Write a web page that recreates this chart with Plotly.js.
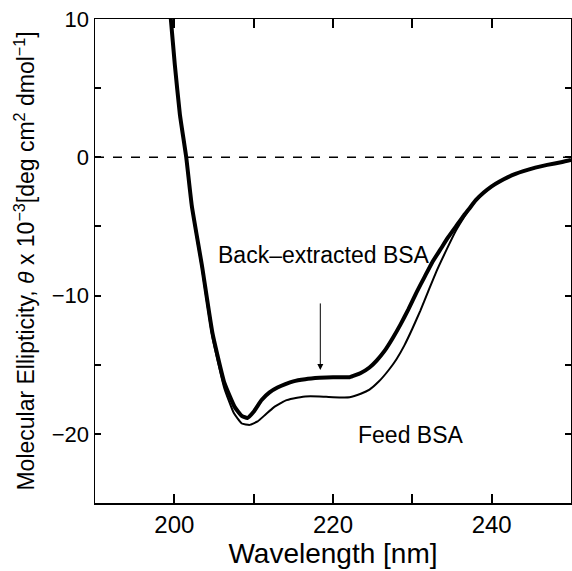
<!DOCTYPE html>
<html>
<head>
<meta charset="utf-8">
<script src="https://cdn.plot.ly/plotly-3.0.1.min.js"></script>
<style>html,body{margin:0;padding:0;background:#fff;}#chart{width:572px;height:571px;}</style>
</head>
<body>
<div id="chart"></div>
<script>
// Back-extracted BSA (thick, overlapping runs)
const backWl = [199.3, 199.56, 200.06, 200.7, 201.5, 202.2, 203.5, 204.8, 206.3, 207.6, 208.5, 209.2, 210, 211, 212, 213, 214, 215, 216.5, 218.3, 220, 222.1, 223.5, 224.6, 225.5, 226.5, 227.5, 228.5, 229.5, 230.5, 231.5, 232.5, 233.5, 234.5, 235.5, 236.5, 237.2, 238, 239, 240, 241, 242, 243, 244, 245.5, 247, 248.9, 250];
const backVal = [11.5, 10, 6.7, 3.1, 0, -3.5, -7.9, -12.7, -16.3, -18.05, -18.7, -18.85, -18.4, -17.55, -17.0, -16.65, -16.4, -16.2, -16.05, -15.95, -15.9, -15.9, -15.6, -15.2, -14.7, -14.0, -13.1, -12.1, -11.0, -9.8, -8.7, -7.6, -6.7, -5.8, -5.0, -4.2, -3.7, -3.1, -2.55, -2.1, -1.75, -1.45, -1.2, -1.0, -0.75, -0.55, -0.34, -0.2];
// Feed BSA (thin)
const feedWl = [199.3, 199.56, 200.06, 200.7, 201.5, 202.2, 203.5, 204.8, 206.3, 207.5, 208.5, 209.5, 210.5, 211.5, 212.5, 214, 215, 216.5, 218.3, 220, 222.1, 223.5, 224.6, 225.8, 227, 228, 229, 230, 231, 232, 233, 234.3, 235.5, 236.5, 237.2, 238, 239, 240, 241, 242, 243, 244, 245.5, 247, 248.9, 250];
const feedVal = [11.5, 10, 6.7, 3.1, 0, -3.6, -8.1, -13.0, -16.7, -18.5, -19.25, -19.35, -19.1, -18.6, -18.1, -17.6, -17.45, -17.3, -17.3, -17.35, -17.35, -17.1, -16.8, -16.2, -15.4, -14.6, -13.6, -12.4, -11.1, -9.7, -8.3, -6.7, -5.3, -4.35, -3.75, -3.15, -2.6, -2.1, -1.75, -1.45, -1.2, -1.0, -0.75, -0.55, -0.34, -0.2];

const xTickVals = [190, 200, 210, 220, 230, 240, 250];
const xTickText = ['', '200', '', '220', '', '240', ''];
const yTickVals = [-25, -20, -15, -10, -5, 0, 5, 10];
const yTickText = ['', '\u221220', '', '\u221210', '', '0', '', '10'];

const labelBack = {text: 'Back\u2013extracted BSA', x: 218.9, y: -7.06};
const labelFeed = {text: 'Feed BSA', x: 229.75, y: -20.08};
const arrowPos = {x: 218.4, yHead: -15.38, yTail: -10.46};

const FONT = 'Liberation Sans, Arial, Helvetica, sans-serif';

const traces = [
  {x: feedWl, y: feedVal, type: 'scatter', mode: 'lines', line: {color: '#000', width: 2, shape: 'spline', smoothing: 0.4}, showlegend: false, hoverinfo: 'skip'},
  {x: backWl, y: backVal, type: 'scatter', mode: 'lines', line: {color: '#000', width: 4, shape: 'spline', smoothing: 0.4}, showlegend: false, hoverinfo: 'skip'}
];

const layout = {
  width: 572, height: 571,
  margin: {l: 95, r: 1, t: 19, b: 68, pad: 0},
  paper_bgcolor: '#fff', plot_bgcolor: '#fff',
  font: {family: FONT, color: '#000'},
  showlegend: false,
  xaxis: {
    range: [190, 250], showgrid: false, zeroline: false,
    showline: true, linecolor: '#000', linewidth: 1.5, mirror: 'ticks',
    ticks: 'inside', ticklen: 9, tickwidth: 2, tickcolor: '#000',
    tickmode: 'array', tickvals: xTickVals, ticktext: xTickText,
    tickfont: {size: 24, family: FONT, color: '#000'},
    title: {text: 'Wavelength [nm]', font: {size: 28, family: FONT, color: '#000'}, standoff: 4}
  },
  yaxis: {
    range: [-25, 10], showgrid: false, zeroline: false,
    showline: true, linecolor: '#000', linewidth: 1.5, mirror: 'ticks',
    ticks: 'inside', ticklen: 6, tickwidth: 2, tickcolor: '#000',
    tickmode: 'array', tickvals: yTickVals, ticktext: yTickText,
    tickfont: {size: 22, family: FONT, color: '#000'},
    title: {text: 'Molecular Ellipticity, <i>\u03b8</i> x 10<sup>\u22123</sup>[deg cm<sup>2</sup> dmol<sup>\u22121</sup>]', font: {size: 23, family: FONT, color: '#000'}, standoff: 10}
  },
  shapes: [
    {type: 'line', xref: 'paper', yref: 'y', x0: 0, x1: 1, y0: 0, y1: 0, line: {color: '#000', width: 1.5, dash: 'dash'}, layer: 'below'}
  ],
  annotations: [
    {x: labelBack.x, y: labelBack.y, xref: 'x', yref: 'y', text: labelBack.text, showarrow: false, font: {size: 23, family: FONT, color: '#000'}},
    {x: labelFeed.x, y: labelFeed.y, xref: 'x', yref: 'y', text: labelFeed.text, showarrow: false, font: {size: 23, family: FONT, color: '#000'}},
    {x: arrowPos.x, y: arrowPos.yHead, ax: arrowPos.x, ay: arrowPos.yTail, xref: 'x', yref: 'y', axref: 'x', ayref: 'y', text: '', showarrow: true, arrowhead: 2, arrowsize: 1.2, arrowwidth: 1, arrowcolor: '#000'}
  ]
};

Plotly.newPlot('chart', traces, layout, {displayModeBar: false, staticPlot: true});
</script>
</body>
</html>
